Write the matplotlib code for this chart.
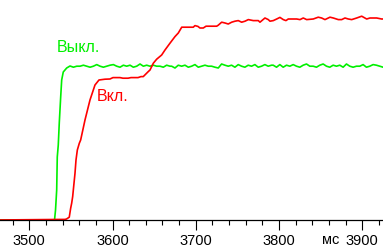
import matplotlib
matplotlib.use("Agg")
import matplotlib.pyplot as plt
from matplotlib.ticker import MultipleLocator

plt.rcParams['font.family'] = ['Liberation Sans Narrow', 'Liberation Sans', 'DejaVu Sans']

# time axis in ms, signal level in %
green_t = [3460, 3530.3, 3531.5, 3532.9, 3533.6, 3534.8, 3536.0, 3537.7, 3538.9, 3540.8, 3544.9, 3548.9,
           3553, 3557, 3561, 3565, 3569, 3573, 3577, 3581, 3585, 3589, 3593, 3597, 3601, 3605, 3609,
           3613, 3617, 3621, 3625, 3629, 3633, 3637, 3641, 3645, 3649, 3653, 3657, 3661, 3665, 3669,
           3671, 3675, 3679, 3683, 3687, 3691, 3695, 3699, 3703, 3707, 3711, 3715, 3719, 3723, 3727,
           3731, 3735, 3739, 3743, 3747, 3751, 3755, 3759, 3763, 3767, 3771, 3775, 3779, 3783, 3787,
           3791, 3793, 3797, 3801, 3805, 3809, 3813, 3817, 3821, 3825, 3829, 3833, 3837, 3841, 3845,
           3849, 3853, 3857, 3861, 3865, 3869, 3873, 3877, 3881, 3885, 3889, 3893, 3897, 3901, 3905,
           3909, 3913, 3917, 3921, 3925, 3930]
green_v = [0, 0, 5, 15, 31.5, 37.5, 48.5, 61.5, 70, 74, 76, 77,
           76.4, 76.9, 76.9, 77.4, 76.9, 76.4, 76.9, 77.7, 76.9, 76.4, 76.9, 77.4, 77.7, 76.9, 76.4,
           77.4, 76.9, 77.4, 76.4, 76.9, 78.0, 76.9, 77.4, 76.9, 77.4, 76.9, 76.9, 76.4, 77.4, 76.9,
           76.9, 76.0, 77.4, 76.9, 77.4, 76.4, 76.9, 77.7, 76.4, 76.9, 77.4, 76.9, 76.9, 76.4, 76.0,
           78.0, 77.4, 76.9, 77.4, 76.4, 77.7, 76.9, 76.4, 77.4, 76.9, 77.7, 76.4, 76.9, 77.7, 76.9,
           77.4, 77.4, 76.4, 77.7, 76.4, 77.4, 76.9, 77.7, 76.9, 76.4, 77.4, 78.0, 76.9, 76.9, 76.4,
           77.4, 78.0, 76.9, 76.4, 77.4, 76.9, 77.4, 76.4, 78.0, 76.9, 76.4, 76.9, 76.9, 77.7, 76.4,
           76.9, 77.7, 77.4, 76.9, 76.4, 76.4]

red_t = [3460, 3542.9, 3544.7, 3548.0, 3549.7, 3550.9, 3552.1, 3553.7, 3554.9, 3556.1, 3557.7,
         3560.1, 3561.7, 3566.9, 3572.9, 3578.9, 3583.7, 3590.9, 3596.9, 3600.5, 3608.9, 3612.5,
         3618.6, 3622.2, 3630.6, 3634.2, 3636.9, 3642.9, 3645.0, 3649.0, 3653.0, 3659.0, 3663.0,
         3669.0, 3675.0, 3679.0, 3683.1, 3697.0, 3699.0, 3702.6, 3705.0, 3709.0, 3712.3, 3725.1,
         3727.0, 3731.1, 3735.1, 3739.0, 3743.1, 3747.1, 3751.0, 3755.1, 3759.1, 3763.1, 3769.1,
         3775.1, 3777.1, 3783.1, 3787.1, 3789.1, 3793.1, 3797.2, 3801.1, 3805.1, 3808.3, 3811.1,
         3821.2, 3825.2, 3829.1, 3833.2, 3841.1, 3847.1, 3851.2, 3855.2, 3861.2, 3865.2, 3871.2,
         3875.3, 3879.2, 3883.2, 3887.3, 3893.3, 3899.3, 3905.3, 3909.2, 3917.3, 3923.3, 3930]
red_v = [0, 0.3, 0.5, 1.4, 5.9, 8.4, 11.7, 18.4, 23.4, 30, 35,
         38.4, 40, 50, 60, 67.5, 70, 70.4, 70.5, 71.2, 71.2, 70.9,
         70.9, 71.2, 71.2, 71.7, 71.7, 74.2, 75, 78.4, 80.4, 82.5, 85,
         88.4, 91.7, 93.5, 96.4, 96.4, 97.2, 96.8, 96, 96, 96.9, 96.9,
         97.4, 98.9, 98.5, 98, 98.9, 99.4, 99.7, 98.9, 99.4, 100.2, 99.7,
         99.7, 98.9, 101, 100.2, 99.4, 99.7, 100.5, 101.3, 100.2, 99.7, 100.5,
         100.5, 100.2, 101, 100.2, 100.5, 101.4, 101, 100.2, 101.4, 101, 100.2,
         100.2, 101, 100.5, 100.2, 101, 101.9, 100.5, 101, 101, 100.5, 100.5]

W, H = 383, 249
fig = plt.figure(figsize=(W / 100, H / 100), dpi=100)
ax = fig.add_axes([0, 29 / H, 1, 220 / H])

ax.plot(green_t, green_v, color='#00f000', lw=1.2)
ax.plot(red_t, red_v, color='#ff0000', lw=1.2)

ax.text(3558.5, 86.3, 'Выкл.', color='#00f000', fontsize=11.5, ha='center', va='center')
ax.text(3600, 61.6, 'Вкл.', color='#ff0000', fontsize=11.5, ha='center', va='center')

ax.set_xlim(3464.8, 3924.9)
ax.set_ylim(0, 110)
for s in ['left', 'right', 'top']:
    ax.spines[s].set_visible(False)
ax.spines['bottom'].set_linewidth(0.9)
ax.set_yticks([])
ax.xaxis.set_major_locator(MultipleLocator(100))
ax.xaxis.set_minor_locator(MultipleLocator(20))
ax.tick_params(axis='x', which='major', length=7.2, width=0.8, labelsize=10.5, pad=3)
ax.tick_params(axis='x', which='minor', length=3.6, width=0.8)

fig.text(331 / W, 1 - 239.5 / H, 'мс', fontsize=10.5, ha='center', va='center')

fig.savefig('out.png', dpi=100, facecolor='white')
